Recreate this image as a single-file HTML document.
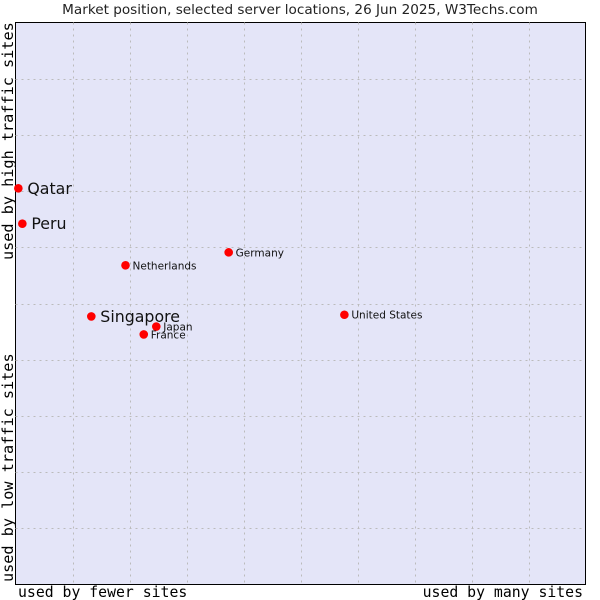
<!DOCTYPE html>
<html><head><meta charset="utf-8"><style>
body{margin:0;background:#fff;}
svg{display:block;}
</style></head><body>
<svg id="chart" width="600" height="600" xmlns="http://www.w3.org/2000/svg">
<rect x="0" y="0" width="600" height="600" fill="#fff"/>
<text x="300" y="14" text-anchor="middle" font-family="DejaVu Sans, sans-serif" font-size="13.6" fill="#222">Market position, selected server locations, 26 Jun 2025, W3Techs.com</text>
<rect x="15.5" y="22.5" width="570" height="562" fill="#e4e5f8" stroke="#000" stroke-width="1"/>
<g id="grid"></g>
<g id="points"></g>
<text x="18" y="597" font-family="DejaVu Sans Mono, Liberation Mono, monospace" font-size="14.8" fill="#000">used by fewer sites</text>
<text x="583" y="597" text-anchor="end" font-family="DejaVu Sans Mono, Liberation Mono, monospace" font-size="14.8" fill="#000">used by many sites</text>
<text transform="translate(13,260) rotate(-90)" font-family="DejaVu Sans Mono, Liberation Mono, monospace" font-size="15.2" fill="#000">used by high traffic sites</text>
<text transform="translate(13,582) rotate(-90)" font-family="DejaVu Sans Mono, Liberation Mono, monospace" font-size="15.2" fill="#000">used by low traffic sites</text>
</svg>
<script>
const countries = ["Qatar","Peru","Germany","Netherlands","Singapore","United States","Japan","France"];
const xValues = [0.5,1.2,37.4,19.3,13.3,57.7,24.7,22.5];
const yValues = [70.5,64.2,59.1,56.8,47.7,48.0,45.9,44.5];
const highlighted = [true,true,false,false,true,false,false,false];
const NS="http://www.w3.org/2000/svg";
const X0=15.5,X1=585.5,Y0=584.5,Y1=22.5;
function xs(v){return X0+(X1-X0)*v/100;}
function ys(v){return Y0-(Y0-Y1)*v/100;}
const grid=document.getElementById('grid');
for(let i=1;i<10;i++){
  const vx=document.createElementNS(NS,'line');
  
  
  const gx=Math.round(xs(i*10))+0.5;
  vx.setAttribute('x1',gx);vx.setAttribute('x2',gx);vx.setAttribute('y1',Y1);vx.setAttribute('y2',Y0);
  vx.setAttribute('stroke','#bbb');vx.setAttribute('stroke-dasharray','2,4');
  grid.appendChild(vx);
  const hy=document.createElementNS(NS,'line');
  
  
  const gy=Math.round(ys(i*10))+0.5;
  hy.setAttribute('y1',gy);hy.setAttribute('y2',gy);hy.setAttribute('x1',X0);hy.setAttribute('x2',X1);
  hy.setAttribute('stroke','#bbb');hy.setAttribute('stroke-dasharray','2,4');
  grid.appendChild(hy);
}
const pts=document.getElementById('points');
countries.forEach((c,i)=>{
  const x=xs(xValues[i]),y=ys(yValues[i]);
  const m=document.createElementNS(NS,'circle');
  
  
  m.setAttribute('cx',x);m.setAttribute('cy',y);m.setAttribute('r',4.3);m.setAttribute('fill','#f00');
  pts.appendChild(m);
  const t=document.createElementNS(NS,'text');
  
  
  const big=highlighted[i];
  t.setAttribute('x',x+(big?9:7));t.setAttribute('y',y+(big?5.5:4));
  t.setAttribute('font-family','DejaVu Sans, sans-serif');
  t.setAttribute('font-size',big?15.8:10.5);
  t.setAttribute('fill','#111');
  t.textContent=c;
  pts.appendChild(t);
});
</script>
</body></html>
